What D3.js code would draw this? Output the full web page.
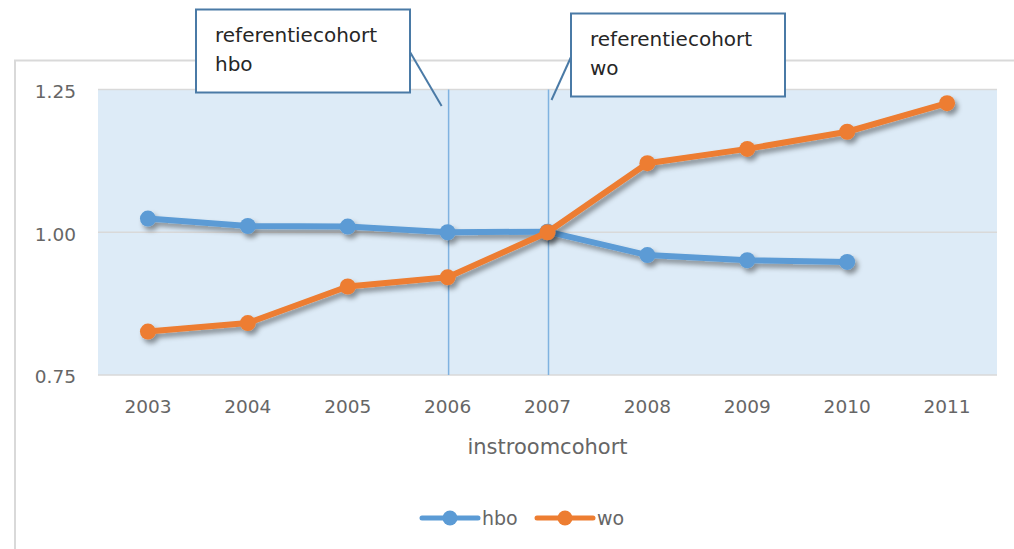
<!DOCTYPE html>
<html>
<head>
<meta charset="utf-8">
<script src="https://cdn.jsdelivr.net/npm/d3@7"></script>
<style>
  body { margin: 0; background: #fff; }
  text { font-family: 'DejaVu Sans', sans-serif; }
</style>
</head>
<body>
<div id="chart"></div>
<script>
// data
var years = ['2003', '2004', '2005', '2006', '2007', '2008', '2009', '2010', '2011'];
var hbo = [1.024, 1.011, 1.010, 1.000, 1.001, 0.960, 0.951, 0.948, null];
var wo = [0.826, 0.841, 0.905, 0.921, 1.000, 1.121, 1.146, 1.176, 1.226];
var yTicks = [0.75, 1.00, 1.25];
var refYears = ['2006', '2007'];
var refLabels = [['referentiecohort', 'hbo'], ['referentiecohort', 'wo']];
var seriesNames = ['hbo', 'wo'];

var width = 1014;
var height = 549;
var colors = ['#5b9bd5', '#ed7d31'];

var svg = d3.select('#chart').append('svg')
  .attr('width', width)
  .attr('height', height);

// schaduw onder lijnen
var defs = svg.append('defs');
defs.append('filter')
  .attr('id', 'shadow')
  .attr('x', '-20%').attr('y', '-20%')
  .attr('width', '140%').attr('height', '140%')
  .append('feDropShadow')
  .attr('dx', 3).attr('dy', 4)
  .attr('stdDeviation', 2.5)
  .attr('flood-color', '#000')
  .attr('flood-opacity', 0.4);

// chart frame
svg.append('path')
  .attr('d', 'M15,' + height + ' L15,60.5 L' + width + ',60.5')
  .attr('fill', 'none')
  .attr('stroke', '#d9d9d9')
  .attr('stroke-width', 2);

var x = d3.scaleBand().domain(years).range([98, 997]);
var y = d3.scaleLinear().domain([0.75, 1.25]).range([375, 89.5]);
var cx = function (yr) { return x(yr) + x.bandwidth() / 2; };

// plot area
svg.append('rect')
  .attr('x', x.range()[0])
  .attr('y', y(1.25))
  .attr('width', x.range()[1] - x.range()[0])
  .attr('height', y(0.75) - y(1.25))
  .attr('fill', '#ddebf7');

// gridlines
svg.append('g')
  .selectAll('line')
  .data(yTicks)
  .enter()
  .append('line')
  .attr('x1', x.range()[0])
  .attr('x2', x.range()[1])
  .attr('y1', function (d) { return y(d); })
  .attr('y2', function (d) { return y(d); })
  .attr('stroke', '#d9d9d9')
  .attr('stroke-width', 1.5);

// y labels
var yAxis = svg.append('g')
  .attr('transform', 'translate(76,2)')
  .call(d3.axisLeft(y).tickValues(yTicks).tickFormat(d3.format('.2f')).tickSize(0).tickPadding(0));
yAxis.select('.domain').remove();
yAxis.selectAll('text')
  .attr('fill', '#666')
  .style('font-size', '18.5px')
  .style('font-family', "'DejaVu Sans', sans-serif");

// x labels
var xAxis = svg.append('g')
  .attr('transform', 'translate(0,' + 400 + ')')
  .call(d3.axisBottom(x).tickSize(0).tickPadding(0));
xAxis.select('.domain').remove();
xAxis.selectAll('text')
  .attr('fill', '#666')
  .style('font-size', '18.5px')
  .style('font-family', "'DejaVu Sans', sans-serif");

svg.append('text')
  .attr('x', (x.range()[0] + x.range()[1]) / 2)
  .attr('y', 454)
  .attr('text-anchor', 'middle')
  .attr('fill', '#666')
  .style('font-size', '21px')
  .text('instroomcohort');

// reference lines
svg.append('g')
  .selectAll('line')
  .data(refYears)
  .enter()
  .append('line')
  .attr('x1', function (d) { return cx(d) + 1; })
  .attr('x2', function (d) { return cx(d) + 1; })
  .attr('y1', y(1.25))
  .attr('y2', y(0.75))
  .attr('stroke', '#7fb2e0')
  .attr('stroke-width', 1.5);

// series
var seriesData = [hbo, wo];
seriesData.forEach(function (vals, i) {
  var pts = years.map(function (yr, j) { return { yr: yr, v: vals[j] }; })
    .filter(function (d) { return d.v !== null; });
  var line = d3.line()
    .x(function (d) { return cx(d.yr); })
    .y(function (d) { return y(d.v); });
  var g = svg.append('g').attr('filter', 'url(#shadow)');
  g.append('path')
    .datum(pts)
    .attr('d', line)
    .attr('fill', 'none')
    .attr('stroke', colors[i])
    .attr('stroke-width', 6)
    .attr('stroke-linejoin', 'round');
  g.selectAll('circle')
    .data(pts)
    .enter()
    .append('circle')
    .attr('cx', function (d) { return cx(d.yr); })
    .attr('cy', function (d) { return y(d.v); })
    .attr('r', 8)
    .attr('fill', colors[i]);
});

// callouts
var boxes = [
  { x: 196, y: 9.5, w: 214, h: 83, lx1: 410, ly1: 52, dx: -6, ly2: 106 },
  { x: 571, y: 13.5, w: 214, h: 83, lx1: 571, ly1: 57, dx: 4, ly2: 100 }
];
boxes.forEach(function (b, i) {
  svg.append('line')
    .attr('x1', b.lx1).attr('y1', b.ly1)
    .attr('x2', cx(refYears[i]) + b.dx).attr('y2', b.ly2)
    .attr('stroke', '#4a7aa6')
    .attr('stroke-width', 2);
  svg.append('rect')
    .attr('x', b.x).attr('y', b.y)
    .attr('width', b.w).attr('height', b.h)
    .attr('fill', '#fff')
    .attr('stroke', '#4a7aa6')
    .attr('stroke-width', 2);
  svg.append('text')
    .attr('x', b.x + 19)
    .attr('y', b.y + 32)
    .attr('fill', '#262626')
    .style('font-size', '20px')
    .selectAll('tspan')
    .data(refLabels[i])
    .enter()
    .append('tspan')
    .attr('x', b.x + 19)
    .attr('dy', function (d, j) { return j === 0 ? 0 : 29; })
    .text(function (d) { return d; });
});

// legend
var legendX = [422, 537];
seriesNames.forEach(function (name, i) {
  var lg = svg.append('g').attr('transform', 'translate(' + legendX[i] + ',518)');
  lg.append('line')
    .attr('x1', 0).attr('x2', 56)
    .attr('stroke', colors[i])
    .attr('stroke-width', 5)
    .attr('stroke-linecap', 'round');
  lg.append('circle')
    .attr('cx', 28).attr('r', 7.5)
    .attr('fill', colors[i]);
  lg.append('text')
    .attr('x', 60)
    .attr('y', 7)
    .attr('fill', '#666')
    .style('font-size', '19px')
    .text(name);
});
</script>
</body>
</html>
